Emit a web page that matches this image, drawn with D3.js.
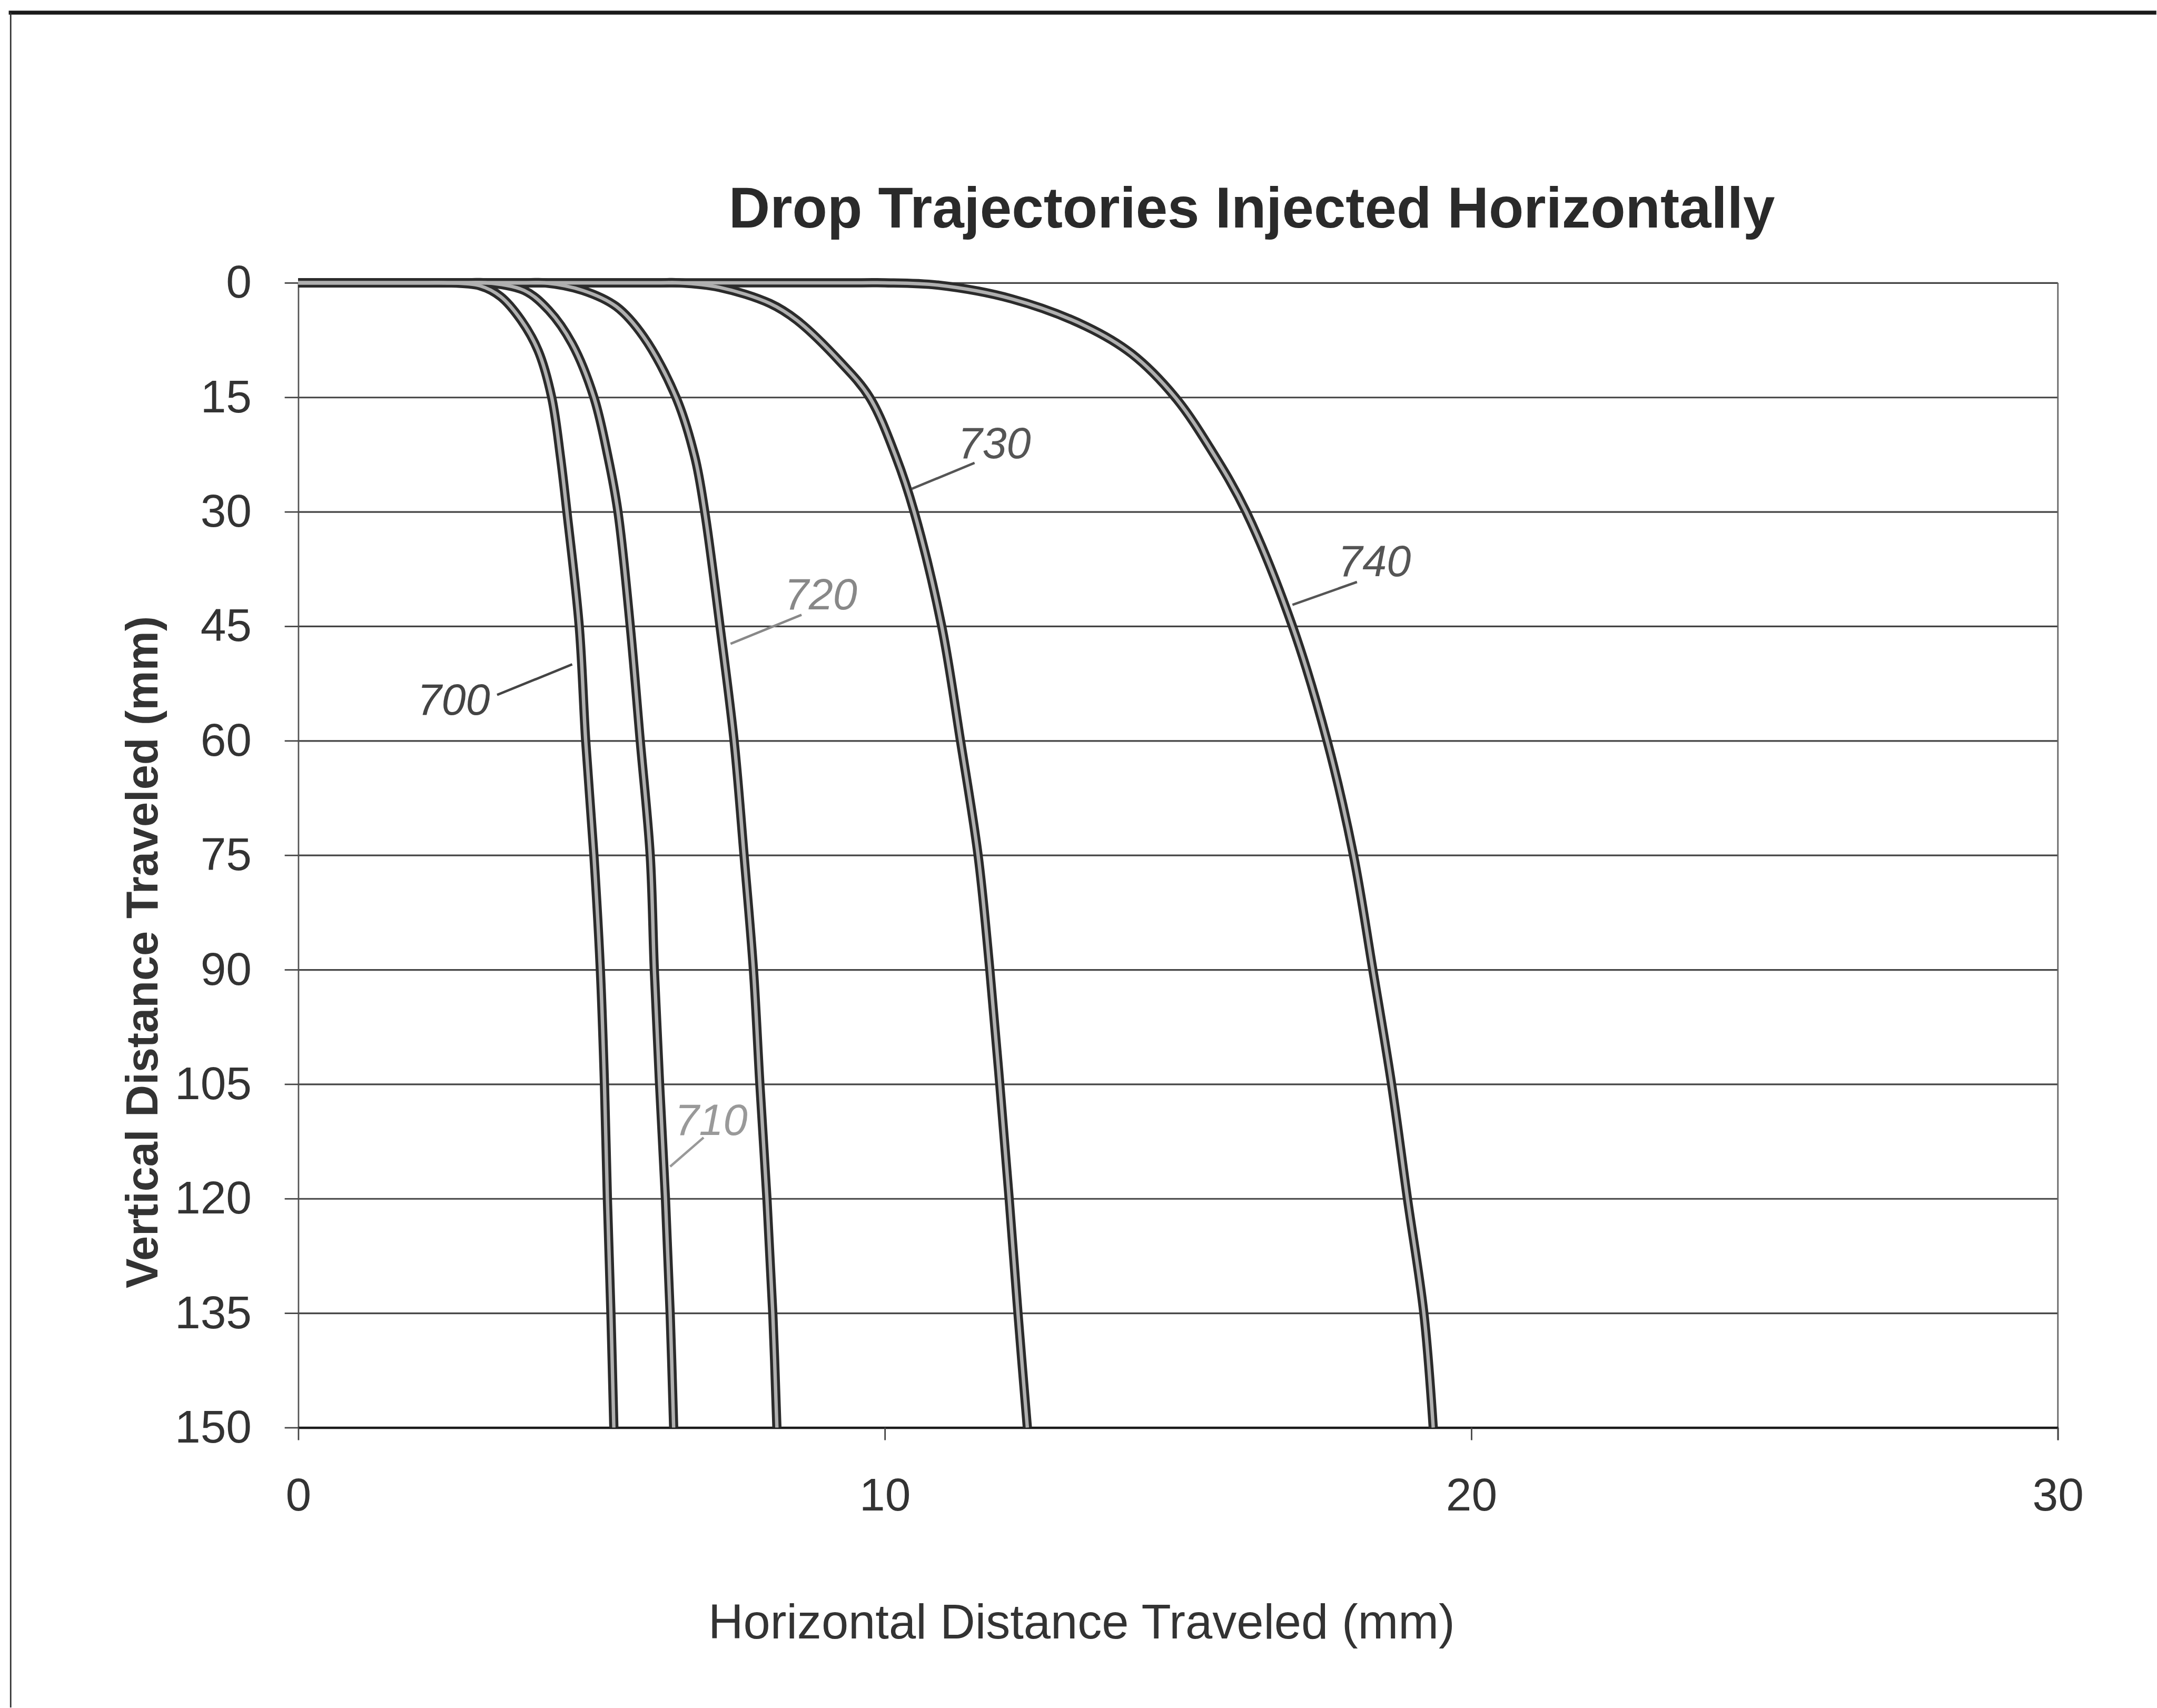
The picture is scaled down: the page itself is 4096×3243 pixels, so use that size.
<!DOCTYPE html>
<html>
<head>
<meta charset="utf-8">
<script src="https://cdn.jsdelivr.net/npm/d3@7"></script>
<style>
  body { margin: 0; background: #fff; }
  text { font-family: "Liberation Sans", Arial, sans-serif; }
</style>
</head>
<body>
<div id="chart"></div>
<script>
const title = "Drop Trajectories Injected Horizontally";
const xLabel = "Horizontal Distance Traveled (mm)";
const yLabel = "Vertical Distance Traveled (mm)";

const xTicks = [0, 10, 20, 30];
const yTicks = [0, 15, 30, 45, 60, 75, 90, 105, 120, 135, 150];

// trajectories (x = horizontal mm, y = vertical mm)
const series = ["700", "710", "720", "730", "740"];
const x700 = [0, 2.2, 2.5, 3.10, 3.45, 3.80, 4.09, 4.32, 4.47, 4.58, 4.79, 4.90, 5.04, 5.15, 5.22, 5.27, 5.33, 5.38];
const y700 = [0, 0, 0, 0.4, 1.8, 4.9, 8.9, 15, 22.8, 30, 45, 60, 75, 90, 105, 120, 135, 150];
const x710 = [0, 2.9, 3.2, 3.85, 4.27, 4.67, 5.04, 5.28, 5.45, 5.66, 5.83, 6.00, 6.07, 6.16, 6.26, 6.34, 6.40];
const y710 = [0, 0, 0, 1.0, 3.6, 8.0, 15, 22.8, 30, 45, 60, 75, 90, 105, 120, 135, 150];
const x720 = [0, 3.9, 4.2, 4.85, 5.42, 5.89, 6.44, 6.76, 6.93, 7.19, 7.43, 7.60, 7.76, 7.87, 7.99, 8.09, 8.16];
const y720 = [0, 0, 0, 1.0, 3.1, 7.1, 15, 22.8, 30, 45, 60, 75, 90, 105, 120, 135, 150];
const x730 = [0, 6.1, 6.5, 7.18, 8.04, 8.50, 9.22, 9.74, 10.19, 10.50, 10.97, 11.29, 11.59, 11.79, 11.96, 12.12, 12.27, 12.43];
const y730 = [0, 0, 0, 0.6, 2.7, 4.9, 10.2, 15, 22.8, 30, 45, 60, 75, 90, 105, 120, 135, 150];
const x740 = [0, 9.6, 10.0, 10.90, 12.16, 13.43, 14.21, 14.95, 15.58, 16.16, 16.95, 17.54, 17.99, 18.32, 18.64, 18.91, 19.19, 19.35];
const y740 = [0, 0, 0, 0.3, 2.1, 5.7, 9.3, 15, 22.1, 30, 45, 60, 75, 90, 105, 120, 135, 150];

// callout numbers and their leader lines, in data units
const calloutX = [2.65, 7.04, 8.91, 11.87, 18.35];
const calloutY = [54.5, 109.6, 40.7, 20.9, 36.4];
const leaderFromX = [3.39, 6.91, 8.58, 11.53, 18.05];
const leaderFromY = [54.0, 112.0, 43.5, 23.6, 39.2];
const leaderToX = [4.67, 6.34, 7.37, 10.46, 16.95];
const leaderToY = [50.0, 115.8, 47.3, 27.0, 42.2];

const seriesData = {
    "700": d3.zip(x700, y700),
    "710": d3.zip(x710, y710),
    "720": d3.zip(x720, y720),
    "730": d3.zip(x730, y730),
    "740": d3.zip(x740, y740)
};

const scale = 0.921;
const width = 4446;
const height = 3520;

const svg = d3.select("#chart")
    .append("svg")
    .attr("width", 4096)
    .attr("height", 3243);

const root = svg.append("g").attr("transform", `scale(${scale})`);

// page frame (top and left edges of the scan)
root.append("line")
    .attr("x1", 18).attr("y1", 26).attr("x2", width).attr("y2", 26)
    .attr("stroke", "#1a1a1a").attr("stroke-width", 8);
root.append("line")
    .attr("x1", 22).attr("y1", 26).attr("x2", 22).attr("y2", height)
    .attr("stroke", "#333").attr("stroke-width", 3);

const plot = { left: 615, right: 4243, top: 583, bottom: 2943 };

const x = d3.scaleLinear().domain([0, 30]).range([plot.left, plot.right]);
const y = d3.scaleLinear().domain([0, 150]).range([plot.top, plot.bottom]);

// gridlines
const grid = root.append("g")
    .attr("transform", `translate(${plot.left}, 0)`)
    .call(d3.axisLeft(y).tickValues(yTicks).tickSize(-(plot.right - plot.left)).tickFormat(""));
grid.select(".domain").remove();
grid.selectAll("line").attr("stroke", "#444").attr("stroke-width", 3.5);

// right border
root.append("line")
    .attr("x1", x(30)).attr("x2", x(30))
    .attr("y1", y(0)).attr("y2", y(150) + 26)
    .attr("stroke", "#666").attr("stroke-width", 3);

// y axis
const yAxis = root.append("g")
    .attr("transform", `translate(${plot.left}, 0)`)
    .call(d3.axisLeft(y).tickValues(yTicks).tickSize(28).tickSizeOuter(0).tickPadding(68));
yAxis.select(".domain").attr("stroke", "#555").attr("stroke-width", 3);
yAxis.selectAll(".tick line").attr("stroke", "#444").attr("stroke-width", 3);
yAxis.selectAll("text")
    .attr("font-size", 95)
    .attr("font-family", "Liberation Sans, Arial, sans-serif")
    .attr("fill", "#333");

// x axis
const xAxis = root.append("g")
    .attr("transform", `translate(0, ${plot.bottom})`)
    .call(d3.axisBottom(x).tickValues(xTicks).tickSize(26).tickSizeOuter(0).tickPadding(78));
xAxis.select(".domain").attr("stroke", "#1a1a1a").attr("stroke-width", 5);
xAxis.selectAll(".tick line").attr("stroke", "#444").attr("stroke-width", 3);
xAxis.selectAll("text")
    .attr("font-size", 95)
    .attr("font-family", "Liberation Sans, Arial, sans-serif")
    .attr("fill", "#333");

// trajectories
const line = d3.line()
    .x(d => x(d[0]))
    .y(d => y(d[1]))
    .curve(d3.curveCatmullRom.alpha(0.5));

const curves = root.append("g").attr("class", "curves");
series.forEach(name => {
    curves.append("path")
        .attr("d", line(seriesData[name]))
        .attr("fill", "none")
        .attr("stroke", "#2b2b2b")
        .attr("stroke-width", 19);
});
series.forEach(name => {
    curves.append("path")
        .attr("d", line(seriesData[name]))
        .attr("fill", "none")
        .attr("stroke", "#b0b0b0")
        .attr("stroke-width", 7);
});

// callouts
const calloutColor = { "700": "#444", "710": "#999", "720": "#888", "730": "#555", "740": "#555" };
const callouts = root.append("g").attr("class", "callouts");
series.forEach((name, i) => {
    callouts.append("line")
        .attr("x1", x(leaderFromX[i])).attr("y1", y(leaderFromY[i]))
        .attr("x2", x(leaderToX[i])).attr("y2", y(leaderToY[i]))
        .attr("stroke", calloutColor[name])
        .attr("stroke-width", 5);
    callouts.append("text")
        .attr("x", x(calloutX[i]))
        .attr("y", y(calloutY[i]))
        .attr("dy", "0.36em")
        .attr("text-anchor", "middle")
        .attr("font-size", 90)
        .attr("font-style", "italic")
        .attr("fill", calloutColor[name])
        .text(name);
});

// titles
root.append("text")
    .attr("x", 2581)
    .attr("y", 469)
    .attr("text-anchor", "middle")
    .attr("font-size", 118)
    .attr("font-weight", "bold")
    .attr("fill", "#2a2a2a")
    .text(title);

root.append("text")
    .attr("x", 2230)
    .attr("y", 3378)
    .attr("text-anchor", "middle")
    .attr("font-size", 100)
    .attr("fill", "#333")
    .text(xLabel);

root.append("text")
    .attr("transform", "translate(291, 1963) rotate(-90)")
    .attr("dy", "0.36em")
    .attr("text-anchor", "middle")
    .attr("font-size", 92)
    .attr("font-weight", "bold")
    .attr("fill", "#333")
    .text(yLabel);
</script>
</body>
</html>
